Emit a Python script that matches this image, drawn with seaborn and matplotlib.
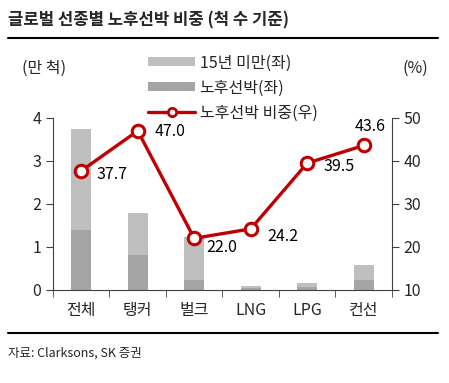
import numpy as np
import pandas as pd
import seaborn as sns
import matplotlib.pyplot as plt
from matplotlib.patches import Patch
from matplotlib.lines import Line2D

# 데이터
categories = ['전체', '탱커', '벌크', 'LNG', 'LPG', '컨선']
total_ships = [3.74, 1.79, 1.23, 0.10, 0.17, 0.57]
old_ships = [1.40, 0.82, 0.24, 0.04, 0.07, 0.22]
old_share = [37.7, 47.0, 22.0, 24.2, 39.5, 43.6]
label_offsets = [(31, -4), (32, -1), (28, -9), (32, -8), (32, -3), (6, 19)]

sns.set_style('ticks')
plt.rcParams['font.family'] = ['Noto Sans CJK KR', 'DejaVu Sans']

df = pd.DataFrame({'cat': categories, 'total': total_ships, 'old': old_ships, 'share': old_share})

fig = plt.figure(figsize=(4.49, 3.83), dpi=100)
ax = fig.add_axes([0.118, 0.243, 0.755, 0.449])

sns.barplot(data=df, x='cat', y='total', color='#bfbfbf', width=0.36, saturation=1,
            linewidth=0, edgecolor='none', ax=ax)
sns.barplot(data=df, x='cat', y='old', color='#a5a5a5', width=0.36, saturation=1,
            linewidth=0, edgecolor='none', ax=ax)

ax.set_ylim(0, 4)
ax.set_yticks([0, 1, 2, 3, 4])
ax.set_xlim(-0.5, len(categories) - 0.5)
ax.set_xlabel('')
ax.set_ylabel('')
ax.set_xticks(np.arange(len(categories)))
ax.set_xticklabels(categories, fontsize=11.5)
ax.tick_params(axis='x', length=0, pad=9)
ax.set_xticks(np.arange(len(categories) + 1) - 0.5, minor=True)
ax.tick_params(axis='x', which='minor', length=5, color='#404040')
ax.tick_params(axis='y', labelsize=11.5, length=5, color='#404040')
for s in ['left', 'bottom']:
    ax.spines[s].set_color('#404040')
ax.spines['top'].set_visible(False)
ax.spines['right'].set_visible(False)

ax2 = ax.twinx()
x_pos = np.arange(len(categories))
sns.lineplot(x=x_pos, y=old_share, color='#c00000', linewidth=2.4, marker='o',
             markersize=9, markerfacecolor='white', markeredgecolor='#c00000',
             markeredgewidth=2.2, ax=ax2)
ax2.set_ylim(10, 50)
ax2.set_yticks([10, 20, 30, 40, 50])
ax2.tick_params(axis='y', labelsize=11.5, length=5, color='#404040')
ax2.spines['right'].set_color('#404040')
for s in ['top', 'left', 'bottom']:
    ax2.spines[s].set_visible(False)

for xi, v, off in zip(x_pos, old_share, label_offsets):
    ax2.annotate(f'{v:.1f}', (xi, v), xytext=off, textcoords='offset pixels',
                 ha='center', va='center', fontsize=11.5, color='#000000')

# 축 단위
fig.text(44 / 449, 1 - 68 / 383, '(만 척)', ha='center', va='center', fontsize=11.5)
fig.text(415 / 449, 1 - 68 / 383, '(%)', ha='center', va='center', fontsize=11.5)

# 범례
handles = [Patch(facecolor='#bfbfbf', edgecolor='none'),
           Patch(facecolor='#a5a5a5', edgecolor='none'),
           Line2D([], [], color='#c00000', linewidth=2.4, marker='o', markersize=6,
                  markerfacecolor='white', markeredgecolor='#c00000', markeredgewidth=2)]
fig.legend(handles, ['15년 미만(좌)', '노후선박(좌)', '노후선박 비중(우)'],
           loc='upper left', bbox_to_anchor=(142 / 449, 1 - 48 / 383), frameon=False,
           fontsize=11.5, handlelength=2.9, handleheight=0.5, labelspacing=0.5,
           handletextpad=0.3, borderaxespad=0)

# 제목 및 출처
fig.text(8 / 449, 1 - 20 / 383, '글로벌 선종별 노후선박 비중 (척 수 기준)',
         ha='left', va='center', fontsize=12, fontweight='bold')
fig.add_artist(Line2D([8 / 449, 438 / 449], [1 - 38 / 383, 1 - 38 / 383], color='black', linewidth=1.5))
fig.add_artist(Line2D([8 / 449, 438 / 449], [1 - 333 / 383, 1 - 333 / 383], color='black', linewidth=1.5))
fig.text(8 / 449, 1 - 353 / 383, '자료: Clarksons, SK 증권', ha='left', va='center', fontsize=9)

fig.savefig('out.png', dpi=100)
